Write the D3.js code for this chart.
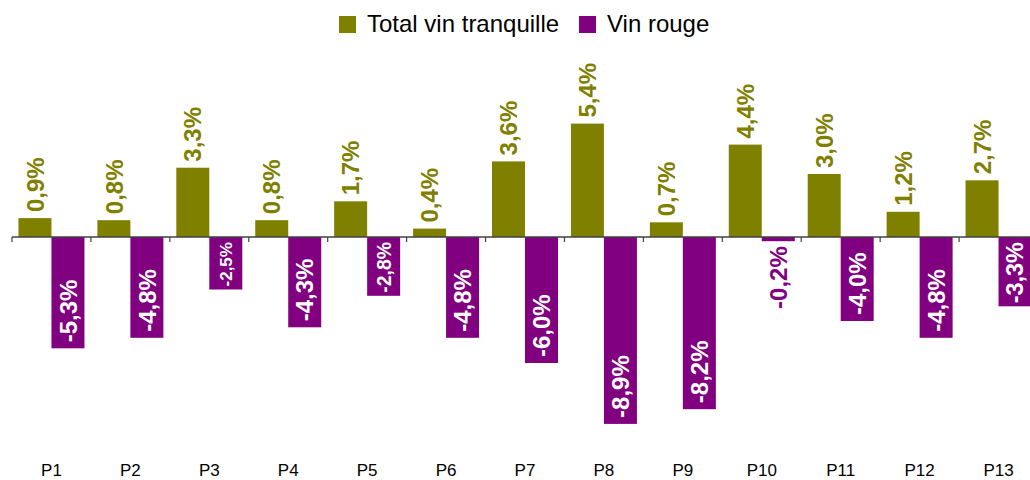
<!DOCTYPE html>
<html>
<head>
<meta charset="utf-8">
<script src="https://cdn.jsdelivr.net/npm/d3@7"></script>
<style>
  body { margin: 0; background: #fff; }
  text { font-family: Arial, "Liberation Sans", sans-serif; }
</style>
</head>
<body>
<svg id="chart" width="1030" height="480"></svg>
<script>
// data
var periods = ["P1","P2","P3","P4","P5","P6","P7","P8","P9","P10","P11","P12","P13"];
var seriesNames = ["Total vin tranquille", "Vin rouge"];
var totalVin = [0.9, 0.8, 3.3, 0.8, 1.7, 0.4, 3.6, 5.4, 0.7, 4.4, 3.0, 1.2, 2.7];
var vinRouge = [-5.3, -4.8, -2.5, -4.3, -2.8, -4.8, -6.0, -8.9, -8.2, -0.2, -4.0, -4.8, -3.3];

var colors = ["#808000", "#800080"];
var width = 1030, height = 480;

var svg = d3.select("#chart");

var fmt = function(v) {
  return d3.format(".1f")(v).replace(".", ",").replace("−", "-") + "%";
};

var x0 = d3.scaleBand()
  .domain(periods)
  .range([12, 1038]);

var bw = 33;
var x1 = d3.scaleBand()
  .domain(seriesNames)
  .range([x0.bandwidth() / 2 - bw, x0.bandwidth() / 2 + bw]);

var y = d3.scaleLinear()
  .domain([-10, 6])
  .range([237 + 210, 237 - 126]);

var data = periods.map(function(p, i) {
  return [
    {period: p, key: seriesNames[0], value: totalVin[i]},
    {period: p, key: seriesNames[1], value: vinRouge[i]}
  ];
});

var groups = svg.append("g").selectAll("g")
  .data(data)
  .enter().append("g")
  .attr("transform", function(d) { return "translate(" + x0(d[0].period) + ",0)"; });

groups.selectAll("rect")
  .data(function(d) { return d; })
  .enter().append("rect")
  .attr("x", function(d) { return x1(d.key); })
  .attr("width", x1.bandwidth())
  .attr("y", function(d) { return y(Math.max(0, d.value)); })
  .attr("height", function(d) { return Math.abs(y(d.value) - y(0)); })
  .attr("fill", function(d, i) { return colors[i]; });

// axis line with ticks between categories
var axisG = svg.append("g")
  .attr("transform", "translate(0," + y(0) + ")");
axisG.append("line")
  .attr("x1", 12).attr("x2", width)
  .attr("stroke", "#404040").attr("stroke-width", 1.5);
axisG.selectAll(".tk")
  .data(periods)
  .enter().append("line")
  .attr("class", "tk")
  .attr("x1", function(d) { return x0(d); })
  .attr("x2", function(d) { return x0(d); })
  .attr("y1", 0).attr("y2", 5)
  .attr("stroke", "#404040").attr("stroke-width", 1.2);

// x labels
var xAxis = d3.axisBottom(x0).tickSize(0).tickPadding(0);
var xg = svg.append("g")
  .attr("transform", "translate(0,476)")
  .call(xAxis);
xg.select(".domain").remove();
xg.selectAll("text")
  .attr("dy", 0)
  .attr("font-size", "17px")
  .attr("fill", "#000")
  .style("font-family", "Arial, 'Liberation Sans', sans-serif");

// value labels
var emLen = function(s) {
  var w = {"0":.556,"1":.556,"2":.556,"3":.556,"4":.556,"5":.556,"6":.556,"7":.556,"8":.556,"9":.556,",":.278,"-":.333,"%":.889};
  return d3.sum(s.split(""), function(c) { return w[c] || .556; });
};

groups.each(function(d) {
  var g = d3.select(this);
  d.forEach(function(e, i) {
    var cx = x1(e.key) + x1.bandwidth() / 2;
    var txt = fmt(e.value);
    var t = g.append("text")
      .attr("font-weight", "bold")
      .attr("dy", "0.36em")
      .text(txt);
    if (e.value >= 0) {
      t.attr("transform", "translate(" + cx + "," + (y(e.value) - 6) + ") rotate(-90)")
        .attr("text-anchor", "start")
        .attr("font-size", "24px")
        .attr("fill", colors[0]);
    } else {
      var barLen = y(e.value) - y(0);
      var fs = Math.min(24, (barLen - 8) / emLen(txt));
      if (fs < 12) {
        // too short: label below the bar
        t.attr("transform", "translate(" + cx + "," + (y(e.value) + 5) + ") rotate(-90)")
          .attr("text-anchor", "end")
          .attr("font-size", "24px")
          .attr("fill", colors[1]);
      } else {
        var pad = fs < 24 ? 3 : 6;
        t.attr("transform", "translate(" + cx + "," + (y(e.value) - pad) + ") rotate(-90)")
          .attr("text-anchor", "start")
          .attr("font-size", fs + "px")
          .attr("fill", "#fff");
      }
    }
  });
});

// legend
var legend = svg.append("g").attr("transform", "translate(339,16)");
var lx = [0, 240];
seriesNames.forEach(function(s, i) {
  legend.append("rect")
    .attr("x", lx[i]).attr("y", 0)
    .attr("width", 17).attr("height", 17)
    .attr("fill", colors[i]);
  legend.append("text")
    .attr("x", lx[i] + 28).attr("y", 16)
    .attr("font-size", "24px")
    .attr("fill", "#000")
    .text(s);
});
</script>
</body>
</html>
